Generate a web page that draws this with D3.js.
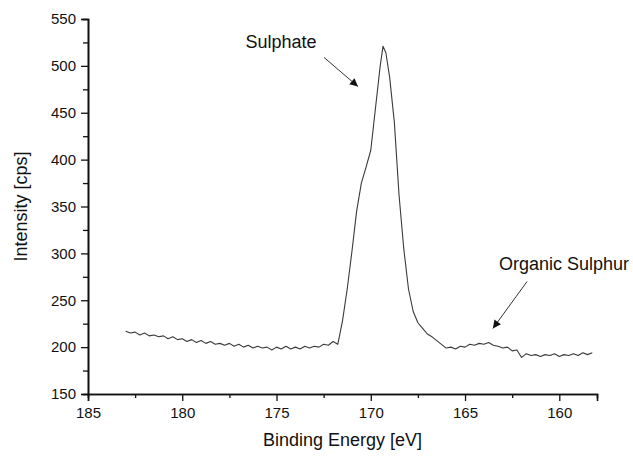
<!DOCTYPE html>
<html>
<head>
<meta charset="utf-8">
<script src="https://cdn.jsdelivr.net/npm/d3@7"></script>
<style>
  body { margin: 0; background: #fff; }
  svg text { font-family: "Liberation Sans", Arial, sans-serif; fill: #111; }
</style>
</head>
<body>
<div id="chart"></div>
<script>
// binding energy (eV) and counts
const energy = [
  183.00, 182.75, 182.50, 182.25, 182.00, 181.75, 181.50, 181.25, 181.00, 180.75,
  180.50, 180.25, 180.00, 179.75, 179.50, 179.25, 179.00, 178.75, 178.50, 178.25,
  178.00, 177.75, 177.50, 177.25, 177.00, 176.75, 176.50, 176.25, 176.00, 175.75,
  175.50, 175.25, 175.00, 174.75, 174.50, 174.25, 174.00, 173.75, 173.50, 173.25,
  173.00, 172.75, 172.50, 172.25, 172.00, 171.75, 171.50, 171.25, 171.00, 170.75,
  170.50, 170.25, 170.00, 169.75, 169.50, 169.35, 169.20, 169.00, 168.75, 168.50,
  168.25, 168.00, 167.75, 167.50, 167.25, 167.00, 166.75, 166.50, 166.25, 166.00,
  165.75, 165.50, 165.25, 165.00, 164.75, 164.50, 164.25, 164.00, 163.75, 163.50,
  163.25, 163.00, 162.75, 162.50, 162.25, 162.00, 161.75, 161.50, 161.25, 161.00,
  160.75, 160.50, 160.25, 160.00, 159.75, 159.50, 159.25, 159.00, 158.75, 158.50,
  158.25
];
const intensity = [
  217, 215, 216, 213, 215, 212, 213, 211, 212, 209,
  211, 208, 209, 206, 208, 205, 207, 204, 206, 203,
  204, 202, 204, 201, 203, 200, 202, 199, 201, 199,
  200, 197, 200, 198, 201, 198, 200, 198, 201, 199,
  201, 200, 203, 202, 206, 203, 228, 262, 302, 345,
  375, 392, 410, 455, 500, 521, 514, 488, 440, 362,
  305, 262, 238, 226, 220, 214, 211, 207, 203, 199,
  200, 198, 201, 200, 203, 202, 204, 203, 205, 202,
  201, 199, 200, 196, 197, 189, 193, 191, 192, 190,
  192, 191, 193, 190, 192, 191, 193, 191, 194, 192,
  194
];
const xTicks = [185, 180, 175, 170, 165, 160];
const xMinorTicks = [182.5, 177.5, 172.5, 167.5, 162.5];
const yTicks = [150, 200, 250, 300, 350, 400, 450, 500, 550];
const yMinorTicks = [175, 225, 275, 325, 375, 425, 475, 525];
// label position, arrow tail and arrow tip, all in data units
const notes = [
  { label: "Sulphate", le: 174.76, lv: 519, te: 172.48, tv: 509, he: 170.68, hv: 478 },
  { label: "Organic Sulphur", le: 159.75, lv: 282, te: 161.71, tv: 270, he: 163.52, hv: 220 }
];

const width = 633;
const height = 458;
const margin = { top: 19, right: 36, bottom: 64, left: 88 };

const svg = d3.select("#chart").append("svg")
  .attr("width", width)
  .attr("height", height);

const x = d3.scaleLinear()
  .domain([185, 158])
  .range([margin.left, width - margin.right]);

const y = d3.scaleLinear()
  .domain([150, 550])
  .range([height - margin.bottom, margin.top]);

const data = energy.map((e, i) => ({ e: e, v: intensity[i] }));

const line = d3.line()
  .x((d) => x(d.e))
  .y((d) => y(d.v));

svg.append("path")
  .datum(data)
  .attr("fill", "none")
  .attr("stroke", "#3a3a3a")
  .attr("stroke-width", 1.1)
  .attr("stroke-linejoin", "round")
  .attr("d", line);

const xMinor = d3.axisBottom(x).tickValues(xMinorTicks).tickSize(4).tickFormat("");
const yMinor = d3.axisLeft(y).tickValues(yMinorTicks).tickSize(5).tickFormat("");

const gxm = svg.append("g").attr("transform", `translate(0, ${y(150)})`).call(xMinor);
const gym = svg.append("g").attr("transform", `translate(${x(185)}, 0)`).call(yMinor);

const xAxis = d3.axisBottom(x).tickValues(xTicks).tickSize(7).tickPadding(6).tickFormat(d3.format("d"));
const yAxis = d3.axisLeft(y).tickValues(yTicks).tickSize(7).tickPadding(5).tickFormat(d3.format("d"));

const gx = svg.append("g").attr("transform", `translate(0, ${y(150)})`).call(xAxis);
const gy = svg.append("g").attr("transform", `translate(${x(185)}, 0)`).call(yAxis);

[gx, gy, gxm, gym].forEach((g) => {
  g.selectAll("path.domain").attr("stroke", "#111").attr("stroke-width", 1.6);
  g.selectAll(".tick line").attr("stroke", "#111").attr("stroke-width", 1.3);
  g.selectAll(".tick text").attr("font-size", 15).attr("font-family", "Liberation Sans, Arial, sans-serif").attr("fill", "#111");
});

svg.append("text")
  .attr("x", (x(185) + x(158)) / 2)
  .attr("y", height - 12)
  .attr("text-anchor", "middle")
  .attr("font-size", 18)
  .text("Binding Energy [eV]");

svg.append("text")
  .attr("transform", `translate(27, ${(y(150) + y(550)) / 2}) rotate(-90)`)
  .attr("text-anchor", "middle")
  .attr("font-size", 18)
  .text("Intensity [cps]");

// annotations with arrows
svg.append("defs").append("marker")
  .attr("id", "head")
  .attr("viewBox", "0 0 10 10")
  .attr("refX", 10)
  .attr("refY", 5)
  .attr("markerWidth", 12)
  .attr("markerHeight", 8)
  .attr("markerUnits", "userSpaceOnUse")
  .attr("orient", "auto")
  .append("path")
  .attr("d", "M0,0 L10,5 L0,10 z")
  .attr("fill", "#111");

notes.forEach((n) => {
  svg.append("text")
    .attr("x", x(n.le))
    .attr("y", y(n.lv))
    .attr("text-anchor", "middle")
    .attr("font-size", 18)
    .text(n.label);
  svg.append("line")
    .attr("x1", x(n.te))
    .attr("y1", y(n.tv))
    .attr("x2", x(n.he))
    .attr("y2", y(n.hv))
    .attr("stroke", "#333")
    .attr("stroke-width", 1)
    .attr("marker-end", "url(#head)");
});
</script>
</body>
</html>
